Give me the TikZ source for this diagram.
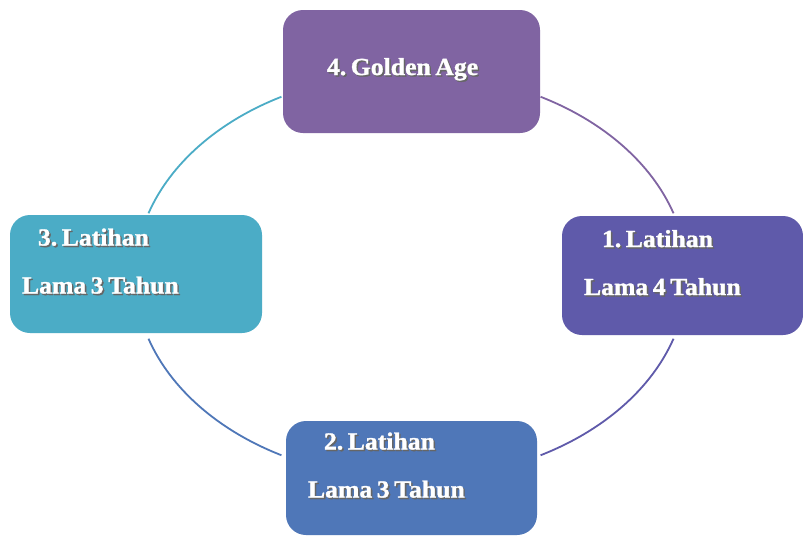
\documentclass[tikz,border=0pt]{standalone}
\usepackage{fontspec}
\setmainfont{Liberation Serif}
\newfontfamily\boxfont{Liberation Serif}[FakeStretch=1.05, FakeBold=1.2]
\usetikzlibrary{calc}
\definecolor{cycPurple}{HTML}{8064A2}
\definecolor{cycIndigo}{HTML}{5F5AAA}
\definecolor{cycBlue}{HTML}{4F77B8}
\definecolor{cycTeal}{HTML}{4BACC6}
\newcommand{\shd}[1]{\leavevmode{\frenchspacing\spaceskip=4.5pt\relax
  \rlap{\kern1.5pt\raisebox{-1.5pt}{\color{black!60}#1}}#1}}
\tikzset{
  cycBox/.style={
    rounded corners=20pt,
    draw=none,
    text=white,
    font=\boxfont\bfseries\fontsize{24.5}{30}\selectfont,
    align=left,
    inner sep=0pt,
    text height=18pt,
    text depth=75pt
  },
  cycArc/.style={line width=1.8pt}
}

\begin{document}
\begin{tikzpicture}[x=1pt, y=1pt]
  \useasboundingbox[fill=white] (0,0) rectangle (803,-536);
  \coordinate (ring) at (411,-276);

  \node[cycBox, fill=cycPurple, minimum width=257pt, minimum height=123pt, text width=213pt,
        text depth=11pt] (golden) at (411.5,-71.5) {\hspace*{22pt}\shd{4. Golden Age}};
  \node[cycBox, fill=cycIndigo, minimum width=241pt, minimum height=119pt, text width=197pt]
        (lat1) at (682.5,-275.5) {\hspace*{18pt}\shd{1. Latihan}\\[18pt]\shd{Lama 4 Tahun}};
  \node[cycBox, fill=cycBlue, minimum width=251pt, minimum height=114pt, text width=207pt]
        (lat2) at (411.5,-478) {\hspace*{16pt}\shd{2. Latihan}\\[18pt]\shd{Lama 3 Tahun}};
  \node[cycBox, fill=cycTeal, minimum width=252pt, minimum height=118pt, text width=228pt]
        (lat3) at (136,-274) {\hspace*{16pt}\shd{3. Latihan}\\[18pt]\shd{Lama 3 Tahun}};

  \draw[cycArc, draw=cycIndigo] ($(ring)+(-18:276 and 203)$) arc[start angle=-18, end angle=-62, x radius=276, y radius=203];
  \draw[cycArc, draw=cycBlue] ($(ring)+(242:276 and 203)$) arc[start angle=242, end angle=198, x radius=276, y radius=203];
  \draw[cycArc, draw=cycTeal] ($(ring)+(162:276 and 203)$) arc[start angle=162, end angle=118, x radius=276, y radius=203];
  \draw[cycArc, draw=cycPurple] ($(ring)+(62:276 and 203)$) arc[start angle=62, end angle=18, x radius=276, y radius=203];
\end{tikzpicture}
\end{document}
